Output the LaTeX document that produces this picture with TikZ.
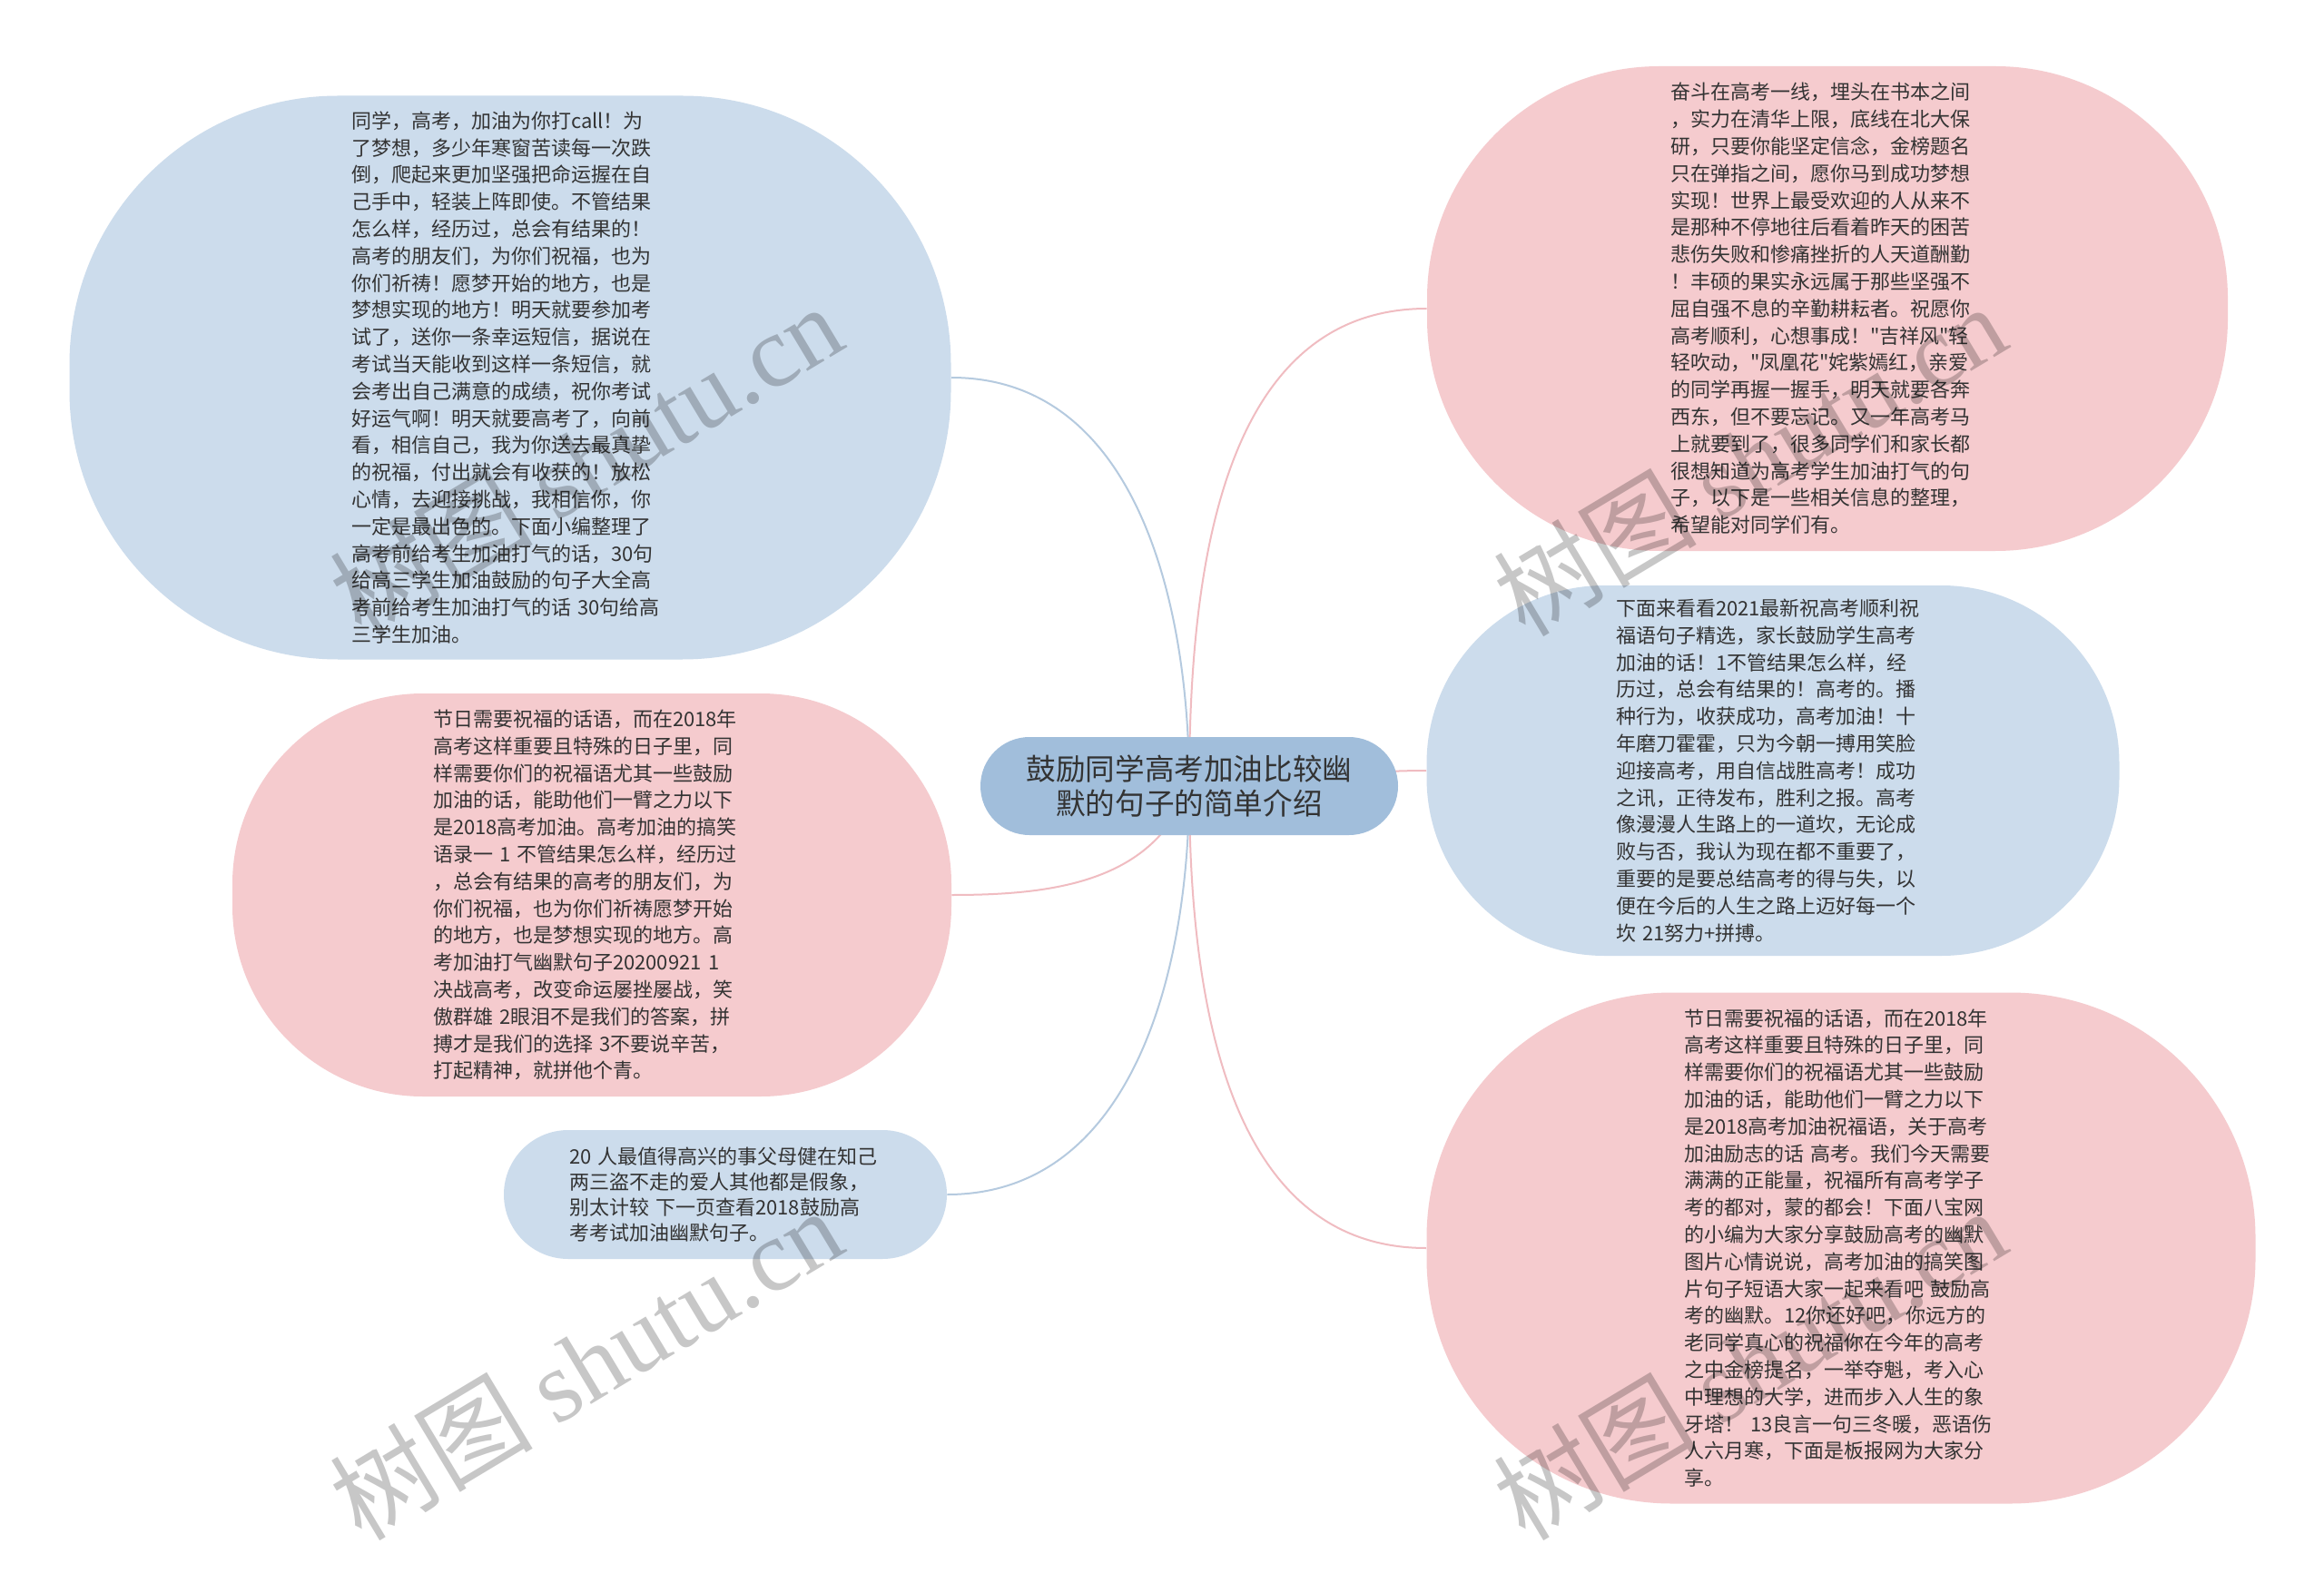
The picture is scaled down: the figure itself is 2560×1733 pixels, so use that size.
\documentclass[tikz,border=0pt]{standalone}
\usepackage{fontspec}
\newfontfamily\cjkfont{Noto Sans CJK SC}
\newfontfamily\wmlatin{Liberation Serif}
\pgfdeclarelayer{bg}
\pgfdeclarelayer{fg}
\pgfsetlayers{bg,main,fg}
\definecolor{bluefill}{HTML}{CCDCEC}
\definecolor{pinkfill}{HTML}{F5CBCE}
\definecolor{rootfill}{HTML}{A1BEDB}
\definecolor{blueline}{HTML}{B5CADF}
\definecolor{pinkline}{HTML}{F0BCC1}
\definecolor{txt}{HTML}{333333}
\begin{document}
\begin{tikzpicture}[x=0.5pt,y=-0.5pt,
  leaf/.style={rectangle, inner sep=0pt, align=left, text=txt,
    font=\cjkfont\fontsize{11pt}{14.9pt}\selectfont},
  rootbox/.style={rectangle, inner sep=0pt, align=center, text=txt, fill=rootfill,
    font=\cjkfont\fontsize{16.3pt}{19pt}\selectfont},
  conn/.style={line width=1pt},
  wm/.style={text=black, opacity=0.22, inner sep=0pt,
    font=\cjkfont\fontsize{56pt}{60pt}\selectfont}]
\useasboundingbox (0,0) rectangle (2560,1733);
\begin{pgfonlayer}{bg}
\fill[white] (0,0) rectangle (2560,1733);
\end{pgfonlayer}

\node[rootbox, minimum width=230pt, minimum height=54pt, rounded corners=27pt] (root) at (1310,866)
 {鼓励同学高考加油比较幽\\默的句子的简单介绍};

\node[leaf, fill=bluefill, minimum width=485.5pt, minimum height=310.5pt, text width=175pt, rounded corners=148pt] (tl) at (562,416) {%
同学，高考，加油为你打call！为\\
了梦想，多少年寒窗苦读每一次跌\\
倒，爬起来更加坚强把命运握在自\\
己手中，轻装上阵即使。不管结果\\
怎么样，经历过，总会有结果的！\\
高考的朋友们，为你们祝福，也为\\
你们祈祷！愿梦开始的地方，也是\\
梦想实现的地方！明天就要参加考\\
试了，送你一条幸运短信，据说在\\
考试当天能收到这样一条短信，就\\
会考出自己满意的成绩，祝你考试\\
好运气啊！明天就要高考了，向前\\
看，相信自己，我为你送去最真挚\\
的祝福，付出就会有收获的！放松\\
心情，去迎接挑战，我相信你，你\\
一定是最出色的。下面小编整理了\\
高考前给考生加油打气的话，30句\\
给高三学生加油鼓励的句子大全高\\
考前给考生加油打气的话 30句给高\\
三学生加油。};

\node[leaf, fill=pinkfill, minimum width=396pt, minimum height=222pt, text width=175pt, rounded corners=105pt] (ml) at (652,986) {%
节日需要祝福的话语，而在2018年\\
高考这样重要且特殊的日子里，同\\
样需要你们的祝福语尤其一些鼓励\\
加油的话，能助他们一臂之力以下\\
是2018高考加油。高考加油的搞笑\\
语录一 1 不管结果怎么样，经历过\\
，总会有结果的高考的朋友们，为\\
你们祝福，也为你们祈祷愿梦开始\\
的地方，也是梦想实现的地方。高\\
考加油打气幽默句子20200921 1\\
决战高考，改变命运屡挫屡战，笑\\
傲群雄 2眼泪不是我们的答案，拼\\
搏才是我们的选择 3不要说辛苦，\\
打起精神，就拼他个青。};

\node[leaf, fill=bluefill, minimum width=244pt, minimum height=71pt, text width=172pt, rounded corners=35.5pt,
  font=\cjkfont\fontsize{11pt}{14pt}\selectfont] (bl) at (799,1316) {%
20 人最值得高兴的事父母健在知己\\
两三盗不走的爱人其他都是假象，\\
别太计较 下一页查看2018鼓励高\\
考考试加油幽默句子。};

\node[leaf, fill=pinkfill, minimum width=441pt, minimum height=267pt, text width=173pt, rounded corners=128pt] (tr) at (2013,340) {%
奋斗在高考一线，埋头在书本之间\\
，实力在清华上限，底线在北大保\\
研，只要你能坚定信念，金榜题名\\
只在弹指之间，愿你马到成功梦想\\
实现！世界上最受欢迎的人从来不\\
是那种不停地往后看着昨天的困苦\\
悲伤失败和惨痛挫折的人天道酬勤\\
！丰硕的果实永远属于那些坚强不\\
屈自强不息的辛勤耕耘者。祝愿你\\
高考顺利，心想事成！"吉祥风"轻\\
轻吹动，"凤凰花"姹紫嫣红，亲爱\\
的同学再握一握手，明天就要各奔\\
西东，但不要忘记。又一年高考马\\
上就要到了，很多同学们和家长都\\
很想知道为高考学生加油打气的句\\
子，以下是一些相关信息的整理，\\
希望能对同学们有。};

\node[leaf, fill=bluefill, minimum width=381.5pt, minimum height=204pt, text width=173pt, rounded corners=98pt] (mr) at (1953,849) {%
下面来看看2021最新祝高考顺利祝\\
福语句子精选，家长鼓励学生高考\\
加油的话！1不管结果怎么样，经\\
历过，总会有结果的！高考的。播\\
种行为，收获成功，高考加油！十\\
年磨刀霍霍，只为今朝一搏用笑脸\\
迎接高考，用自信战胜高考！成功\\
之讯，正待发布，胜利之报。高考\\
像漫漫人生路上的一道坎，无论成\\
败与否，我认为现在都不重要了，\\
重要的是要总结高考的得与失，以\\
便在今后的人生之路上迈好每一个\\
坎 21努力+拼搏。};

\node[leaf, fill=pinkfill, minimum width=456.5pt, minimum height=281.5pt, text width=173pt, rounded corners=135pt] (br) at (2028,1375) {%
节日需要祝福的话语，而在2018年\\
高考这样重要且特殊的日子里，同\\
样需要你们的祝福语尤其一些鼓励\\
加油的话，能助他们一臂之力以下\\
是2018高考加油祝福语，关于高考\\
加油励志的话 高考。我们今天需要\\
满满的正能量，祝福所有高考学子\\
考的都对，蒙的都会！下面八宝网\\
的小编为大家分享鼓励高考的幽默\\
图片心情说说，高考加油的搞笑图\\
片句子短语大家一起来看吧 鼓励高\\
考的幽默。12你还好吧，你远方的\\
老同学真心的祝福你在今年的高考\\
之中金榜提名，一举夺魁，考入心\\
中理想的大学，进而步入人生的象\\
牙塔！ 13良言一句三冬暖，恶语伤\\
人六月寒，下面是板报网为大家分\\
享。};

\begin{pgfonlayer}{bg}
\draw[conn, blueline] (tl.east) to[out=0,in=90] (root.center);
\draw[conn, pinkline] (tr.west) to[out=180,in=90] (root.center);
\draw[conn, pinkline] (root.center) to[out=0,in=180] (mr.west);
\draw[conn, pinkline] (ml.east) to[out=0,in=-110] (root.center);
\draw[conn, blueline] (bl.east) to[out=0,in=-90] (root.center);
\draw[conn, pinkline] (br.west) to[out=180,in=-90] (root.center);
\end{pgfonlayer}

\begin{pgfonlayer}{fg}
\node[wm, rotate=31] (wm1) at (645,506) {树图 {\wmlatin shutu.cn}};
\node[wm, rotate=31] (wm2) at (645,1502) {树图 {\wmlatin shutu.cn}};
\node[wm, rotate=31] (wm3) at (1927,506) {树图 {\wmlatin shutu.cn}};
\node[wm, rotate=31] (wm4) at (1927,1502) {树图 {\wmlatin shutu.cn}};
\end{pgfonlayer}
\end{tikzpicture}
\end{document}
